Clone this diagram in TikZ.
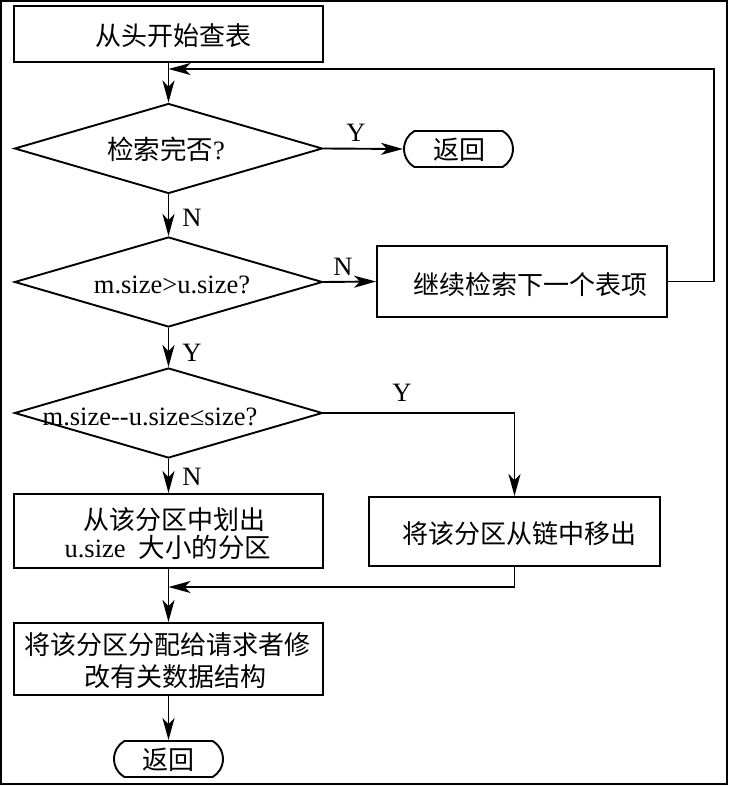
\documentclass[tikz,border=0pt]{standalone}
\usepackage{fontspec}
\setmainfont{Liberation Serif}
\newfontfamily\cjk{Noto Sans CJK SC}
\usetikzlibrary{shapes.geometric,shapes.misc,arrows.meta}
\begin{document}
\begin{tikzpicture}[x=1pt,y=-1pt, line width=1.9pt,
 box/.style={draw, rectangle, inner sep=0pt},
 dia/.style={draw, diamond, inner sep=0pt, minimum width=308pt, minimum height=90pt},
 term/.style={draw, rounded rectangle, rounded rectangle arc length=120, minimum width=109pt, minimum height=36pt, inner sep=0pt},
 arr/.style={-{Stealth[length=22pt,width=12pt,inset=6pt]}},
 lbl/.style={font=\fontsize{26.5}{30}\selectfont, inner sep=0pt},
 txt/.style={font=\fontsize{26}{30}\selectfont\cjk, inner sep=0pt}]
\useasboundingbox (0,0) rectangle (729,786);
\fill[white] (0,0) rectangle (729,786);
\draw (1,1) rectangle (727,784);
% shapes
\node[box, minimum width=309pt, minimum height=56pt] (b1) at (168.5,34) {};
\node[dia] (d1) at (168.5,148.5) {};
\node[term] (t1) at (458.5,149) {};
\node[dia] (d2) at (168.5,282) {};
\node[box, minimum width=290pt, minimum height=71pt] (b2) at (522,281.5) {};
\node[dia] (d3) at (168.5,413) {};
\node[box, minimum width=309pt, minimum height=74pt] (b3) at (168.5,531) {};
\node[box, minimum width=291pt, minimum height=69pt] (b4) at (514.5,531.5) {};
\node[box, minimum width=309pt, minimum height=72pt] (b5) at (168.5,659) {};
\node[term] (t2) at (168.5,759) {};
% texts
\node[txt] (x1) at (173,36) {从头开始查表};
\node[lbl] (x2) at (166,149) {{\cjk 检索完否}?};
\node[txt] (x3) at (459,150) {返回};
\node[lbl] (x4) at (172,285) {m.size>u.size?};
\node[txt] (x5) at (530,285) {继续检索下一个表项};
\node[lbl] (x6) at (150,417) {m.size-{}-u.size≤size?};
\node[txt] (x7) at (174,520) {从该分区中划出};
\node[lbl] (x8) at (168,547) {u.size\ \ {\cjk 大小的分区}};
\node[txt] (x9) at (519,534) {将该分区从链中移出};
\node[txt] (x10) at (167,645) {将该分区分配给请求者修};
\node[txt] (x11) at (175,677) {改有关数据结构};
\node[txt] (x12) at (168,760) {返回};
% labels
\node[lbl] (y1) at (356,133) {Y};
\node[lbl] (n1) at (192,218) {N};
\node[lbl] (n2) at (343,267) {N};
\node[lbl] (y2) at (192,353) {Y};
\node[lbl] (y3) at (402,393) {Y};
\node[lbl] (n3) at (192,477) {N};
% connectors
\coordinate (m1) at (168.5,69);
\coordinate (m2) at (168.5,587);
\draw[arr] (b1.south) -- (d1.north);
\draw[arr] (d1.east) -- (t1.west);
\draw[arr] (d1.south) -- (d2.north);
\draw[arr] (d2.east) -- (b2.west);
\draw[arr] (b2.east) -- ++(46,0) |- (m1);
\draw[arr] (d2.south) -- (d3.north);
\draw[arr] (d3.south) -- (b3.north);
\draw[arr] (d3.east) -| (b4.north);
\draw[arr] (b4.south) |- (m2);
\draw[arr] (b3.south) -- (b5.north);
\draw[arr] (b5.south) -- (t2.north);
\end{tikzpicture}
\end{document}
